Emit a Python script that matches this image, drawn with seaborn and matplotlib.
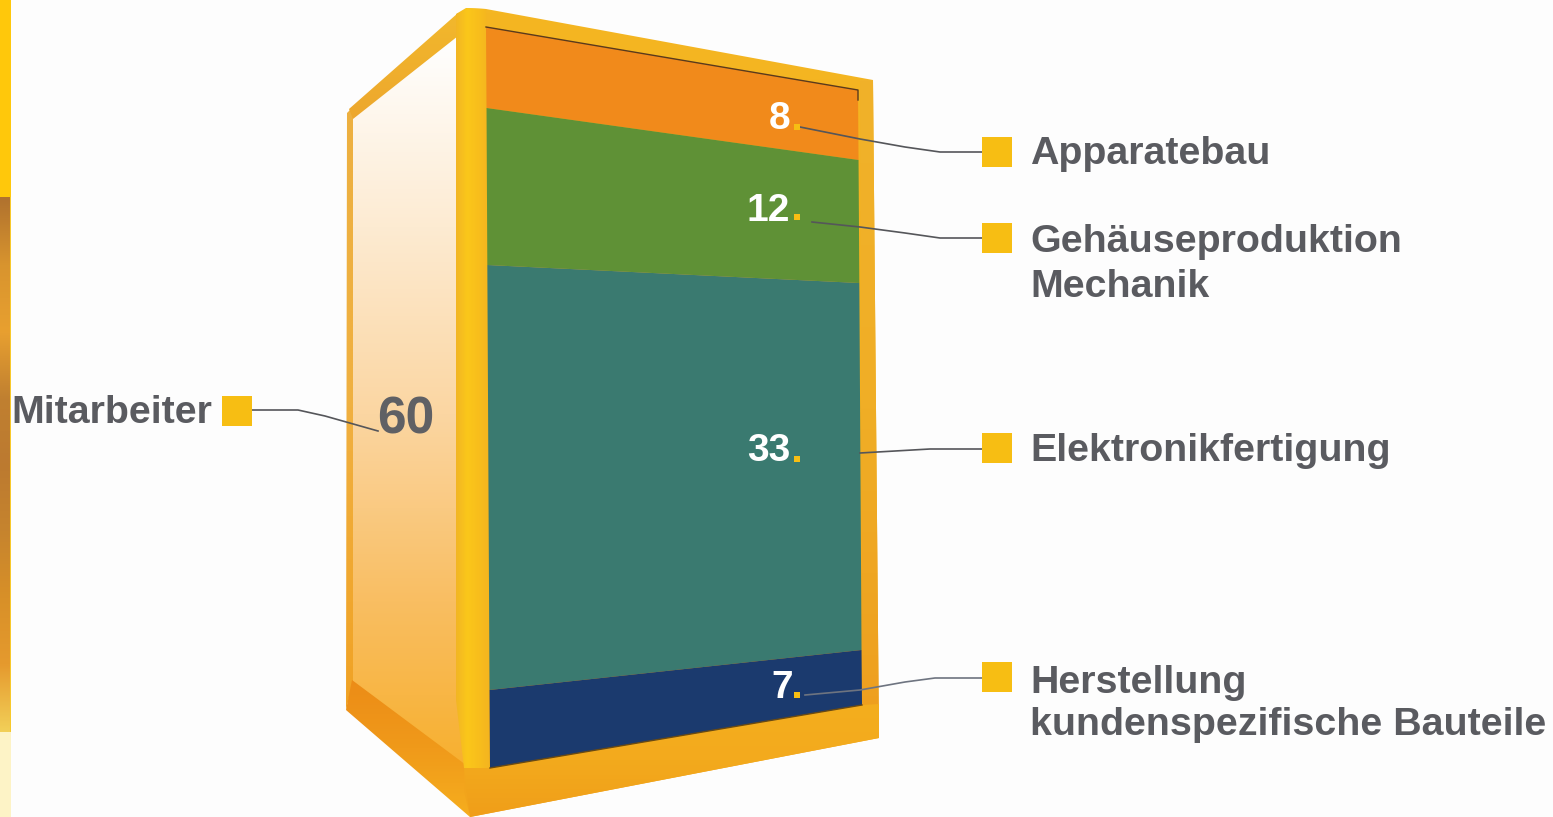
"""Employee breakdown drawn as a cabinet: stacked bars projected on the front face."""
import matplotlib
matplotlib.use("Agg")
import matplotlib.pyplot as plt
import numpy as np
import pandas as pd
import seaborn as sns
from matplotlib.colors import LinearSegmentedColormap
from matplotlib.patches import Polygon, Rectangle
from matplotlib.transforms import Transform

# data, top of the cabinet first
departments = ["Apparatebau", "Gehäuseproduktion\nMechanik", "Elektronikfertigung",
               "Herstellung\nkundenspezifische Bauteile"]
employees = [8, 12, 33, 7]
total_label = "Mitarbeiter"
total_value = 60
segment_colors = ["#F18A1B", "#5F9136", "#3A7A70", "#1B3A6E"]

# the front face as a perspective scale: cumulative value -> pixel on each edge
SCALE_VALUES = [0, 8, 20, 53, 60]
LEFT_EDGE_Y = [27, 108, 265, 690, 768]
RIGHT_EDGE_Y = [90, 160, 283, 650, 705]
LEFT_EDGE_X = (486, 490)
RIGHT_EDGE_X = (858, 862)

YELLOW = "#F7BE13"
TEXT_GREY = "#5A5B60"


class FaceTransform(Transform):
    """Maps (bar x, cumulative value) onto the skewed cabinet front."""
    input_dims = 2
    output_dims = 2

    def transform_non_affine(self, values):
        values = np.asarray(values, dtype=float)
        t = values[:, 0] + 0.5
        v = values[:, 1]
        yl = np.interp(v, SCALE_VALUES, LEFT_EDGE_Y)
        yr = np.interp(v, SCALE_VALUES, RIGHT_EDGE_Y)
        xl = np.interp(v, [0, 60], LEFT_EDGE_X)
        xr = np.interp(v, [0, 60], RIGHT_EDGE_X)
        return np.column_stack([xl + t * (xr - xl), yl + t * (yr - yl)])


def gradient_poly(ax, verts, colors, horizontal=False, zorder=1):
    """Polygon filled with a linear gradient, vertical by default."""
    verts = np.asarray(verts)
    x0, y0 = verts.min(axis=0)
    x1, y1 = verts.max(axis=0)
    cmap = LinearSegmentedColormap.from_list("g", colors)
    ramp = np.linspace(0, 1, 256)
    ramp = ramp[None, :] if horizontal else ramp[:, None]
    im = ax.imshow(ramp, cmap=cmap, extent=(x0, x1, y1, y0), origin="upper",
                   aspect="auto", zorder=zorder, interpolation="bilinear")
    poly = Polygon(verts, closed=True, transform=ax.transData, fc="none", ec="none")
    ax.add_patch(poly)
    im.set_clip_path(poly)


df = pd.DataFrame({"department": departments, "employees": employees})
df["start"] = df["employees"].cumsum() - df["employees"]

fig = plt.figure(figsize=(15.53, 8.17), dpi=100, facecolor="#FDFDFD")
ax = fig.add_axes([0, 0, 1, 1])

# stacked segments, one bar call per department
for (_, row), color in zip(df.iterrows(), segment_colors):
    sns.barplot(x=["Firma"], y=[row["employees"]], bottom=row["start"], color=color,
                saturation=1, width=1, ax=ax, zorder=5)
for patch in ax.patches:
    patch.set_transform(FaceTransform() + ax.transData)
    patch.set_linewidth(0)

# page strip on the left edge
gradient_poly(ax, [(0, 197), (10, 197), (10, 732), (0, 732)],
              ["#B0722E", "#D8942E", "#E8A030", "#C08030", "#BC7A30", "#C6842E",
               "#D89028", "#E59A2E", "#F2CF58"])
ax.add_patch(Rectangle((0, 0), 11, 197, fc="#FFC80B", ec="none", zorder=2))
ax.add_patch(Rectangle((10, 197), 1, 535, fc="#F8C92A", ec="none", zorder=2))
ax.add_patch(Rectangle((0, 732), 11, 85, fc="#FDF3C6", ec="none", zorder=2))

# cabinet side
gradient_poly(ax, [(353, 118), (458, 38), (466, 790), (353, 684)],
              ["#FFFFFF", "#FDEBD2", "#FBD6A2", "#F9BE62", "#F7AE28"], zorder=1)
gradient_poly(ax, [(347, 113), (353, 107), (353, 682), (346, 710)],
              ["#EDB040", "#F0B040", "#F0A224"], zorder=2)
gradient_poly(ax, [(349, 109), (458, 13), (458, 36), (353, 119)],
              ["#F2B82C", "#EDA72E"], zorder=2)
gradient_poly(ax, [(352, 680), (466, 765), (470, 817), (346, 710)],
              ["#EC8C17", "#F09A1A", "#F6AE1E"], zorder=2)

# cabinet front frame
gradient_poly(ax, [(466, 8), (486, 9), (873, 80), (879, 738), (470, 817), (464, 790)],
              ["#F4B622", "#F4B020", "#F2A41B"], zorder=3)
gradient_poly(ax, [(456, 14), (466, 8), (486, 9), (490, 768), (464, 768), (456, 700)],
              ["#F2B524", "#FBC71A", "#F8BE1C", "#F4B420"], horizontal=True, zorder=3.2)
gradient_poly(ax, [(860, 80), (873, 80), (879, 738), (862, 738)],
              ["#F1B22A", "#F0AE26", "#EE9E1E"], zorder=3.5)
gradient_poly(ax, [(464, 768), (490, 768), (862, 705), (879, 704), (879, 738), (470, 817)],
              ["#F4AE1E", "#F3AA1D", "#F09E19"], zorder=3.6)
ax.plot([486, 858, 858], [27, 90, 100], color="#5A3A1C", lw=1, zorder=6)
ax.plot([490, 862], [768, 705], color="#6A4A12", lw=1, zorder=6)

# leader lines
leaders = [
    ([800, 860, 905, 940, 982], [127, 139, 147, 152, 152]),
    ([812, 860, 905, 940, 982], [222, 227, 233, 238, 238]),
    ([860, 930, 982], [453, 449, 449]),
    ([805, 860, 905, 935, 982], [695, 690, 682, 678, 678]),
    ([252, 298, 325, 378], [410, 410, 416, 431]),
]
leader_colors = ["#55565A", "#55565A", "#55565A", "#6E7480", "#55565A"]
for (xs, ys), c in zip(leaders, leader_colors):
    ax.plot(xs, ys, color=c, lw=1.2, zorder=7)

# value numbers and their small yellow dots
font = ["Liberation Sans", "DejaVu Sans"]
value_x = [790, 790, 790, 793]
value_y = [119, 211, 451, 688]
dot_y = [127, 217, 459, 695]
for v, x, y, dy in zip(df["employees"], value_x, value_y, dot_y):
    ax.text(x, y, str(v), color="white", fontsize=28, fontweight="bold", family=font,
            ha="right", va="center", zorder=8)
    ax.add_patch(Rectangle((794, dy - 3), 6, 6, fc=YELLOW, ec="none", zorder=8))

# legend squares and labels
square_y = [152, 238, 448, 677]
label_y = [154, 264.5, 451, 704]
label_spacing = [1.15, 1.35, 1.15, 1.2]
for name, sy, ly, ls in zip(df["department"], square_y, label_y, label_spacing):
    ax.add_patch(Rectangle((982, sy - 15), 30, 30, fc=YELLOW, ec="none", zorder=8))
    ax.text(1030, ly, name, color=TEXT_GREY, fontsize=28.4, fontweight="bold", family=font,
            ha="left", va="center", linespacing=ls, zorder=8)

ax.add_patch(Rectangle((222, 396), 30, 30, fc=YELLOW, ec="none", zorder=8))
ax.text(212, 413, total_label, color=TEXT_GREY, fontsize=28.4, fontweight="bold", family=font,
        ha="right", va="center", zorder=8)
ax.text(406, 420, str(total_value), color="#5F6064", fontsize=37, fontweight="bold", family=font,
        ha="center", va="center", zorder=8)

ax.set_xlim(0, 1553)
ax.set_ylim(817, 0)
ax.axis("off")

fig.savefig("out.png", dpi=100, facecolor=fig.get_facecolor())
plt.close(fig)
